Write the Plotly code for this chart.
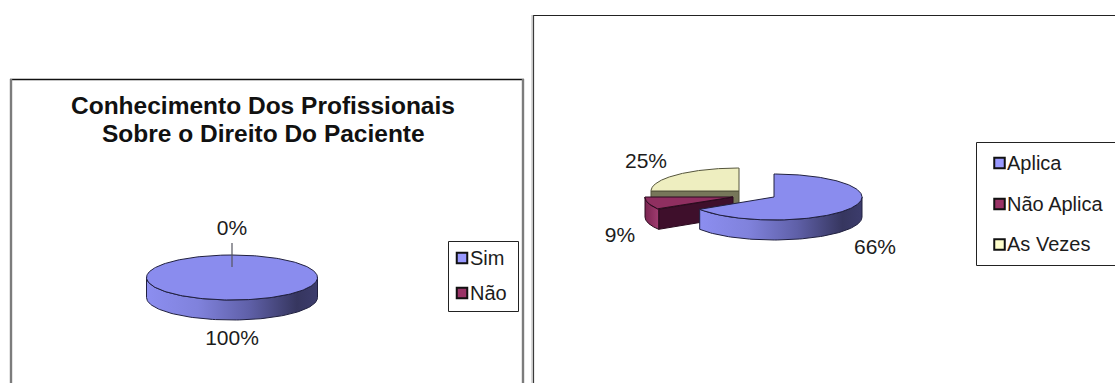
import numpy as np
import plotly.graph_objects as go

# Survey results, percent of respondents
categories_left = ["Sim", "Não"]
values_left = [100, 0]
categories_right = ["Aplica", "Não Aplica", "As Vezes"]
values_right = [66, 9, 25]
title_lines = ["Conhecimento Dos Profissionais", "Sobre o Direito Do Paciente"]

WIDTH, HEIGHT = 1115, 383
FONT = "Liberation Sans, Arial, sans-serif"
INK = "#1c1c1c"

# Colours per slice: top face, outer wall gradient, cut face, outline
STYLE = [
    dict(top="#8a8cee", wall=[[0, "#8c8ef0"], [0.3, "#8082dc"], [0.6, "#5f60a8"], [0.88, "#36365f"], [1, "#3c3c6c"]],
         cut="#40406e", edge="#20203f"),
    dict(top="#8f2f60", wall=[[0, "#7a2450"], [1, "#a03c70"]], cut="#3e0f2b", edge="#2a0a1e"),
    dict(top="#eeeec0", wall=[[0, "#bcbc94"], [1, "#eeeec0"]], cut="#77775a", edge="#55553c"),
]
LEGEND_COLORS = ["#9999ff", "#993366", "#ffffcc"]


def rim(cx, cy, rx, ry, a0, a1, n=90):
    """Points on the pie rim; angles in degrees, clockwise from twelve o'clock."""
    t = np.radians(np.linspace(a0, a1, n))
    return cx + rx * np.sin(t), cy - ry * np.cos(t)


def poly(fig, x, y, fill, edge, gradient=None):
    kw = dict(fillcolor=fill) if gradient is None else dict(
        fillgradient=dict(type="horizontal", colorscale=gradient))
    fig.add_trace(go.Scatter(
        x=list(x), y=list(y), mode="lines", fill="toself",
        line=dict(color=edge, width=1), hoverinfo="skip", showlegend=False, **kw))


def draw_slice(fig, cx, cy, rx, ry, depth, a0, a1, style):
    # Cut faces that turn towards the viewer
    for ang, visible in ((a0, 180 < a0 < 360), (a1, 0 < a1 < 180)):
        if visible:
            ex, ey = rim(cx, cy, rx, ry, ang, ang, 1)
            poly(fig, [cx, ex[0], ex[0], cx, cx],
                 [cy, ey[0], ey[0] + depth, cy + depth, cy], style["cut"], style["edge"])
    # Outer wall: only the front half of the rim shows
    w0, w1 = max(a0, 90), min(a1, 270)
    if w1 > w0:
        ux, uy = rim(cx, cy, rx, ry, w0, w1)
        poly(fig, np.r_[ux, ux[::-1], ux[0]], np.r_[uy, uy[::-1] + depth, uy[0]],
             style["wall"][0][1], style["edge"], gradient=style["wall"])
    # Top face
    tx, ty = rim(cx, cy, rx, ry, a0, a1, 240)
    if a1 - a0 >= 360:
        poly(fig, tx, ty, style["top"], style["edge"])
    else:
        poly(fig, np.r_[cx, tx, cx], np.r_[cy, ty, cy], style["top"], style["edge"])


def draw_pie(fig, values, cx, cy, rx, ry, depth, offsets, order):
    edges = np.r_[0, np.cumsum(values)] * 3.6
    for i in order:
        if values[i] > 0:
            dx, dy = offsets[i]
            draw_slice(fig, cx + dx, cy + dy, rx, ry, depth, edges[i], edges[i + 1], STYLE[i])


def text_trace(fig, x, y, labels, size=21, position="middle center"):
    fig.add_trace(go.Scatter(
        x=x, y=y, text=labels, mode="text", textposition=position,
        textfont=dict(family=FONT, size=size, color=INK),
        hoverinfo="skip", showlegend=False, cliponaxis=False))


def legend_box(fig, x0, x1, y0, y1, categories, mark_x, text_x, rows, size=20):
    shapes.append(dict(type="rect", x0=x0, x1=x1, y0=y0, y1=y1,
                       line=dict(color="#222222", width=1), fillcolor="white", layer="below"))
    fig.add_trace(go.Scatter(
        x=[mark_x] * len(categories), y=rows, mode="markers",
        marker=dict(symbol="square", size=10.5, color=LEGEND_COLORS[:len(categories)],
                    line=dict(color="#111111", width=2)),
        hoverinfo="skip", showlegend=False, cliponaxis=False))
    text_trace(fig, [text_x] * len(categories), [r + 1.5 for r in rows], categories,
               size=size, position="middle right")


def rule(x0, x1, y0, y1, color, width):
    shapes.append(dict(type="line", x0=x0, x1=x1, y0=y0, y1=y1,
                       line=dict(color=color, width=width), layer="below"))


fig = go.Figure()
shapes = []

# Chart frames: black top rule, side rules running off the page
rule(10, 524, 79.5, 79.5, "#111111", 1.3)
rule(11, 11, 79, HEIGHT, "#7c7c7c", 2.4)
rule(523, 523, 79, HEIGHT, "#7c7c7c", 2.4)
rule(533, WIDTH, 15.5, 15.5, "#222222", 1.1)
rule(532, 532, 15, HEIGHT, "#b4b4b4", 1)
rule(533.5, 533.5, 15, HEIGHT, "#3a3a3a", 1.2)

# Left pie
draw_pie(fig, values_left, 232, 277.5, 85.5, 22.5, 20, [(0, 0), (0, 0)], [1, 0])
shapes.append(dict(type="line", x0=232, x1=232, y0=243, y1=267,
                   line=dict(color="#555560", width=1.2), layer="above"))
text_trace(fig, [232, 232], [339.5, 229.5], [f"{v}%" for v in values_left])
legend_box(fig, 448.5, 518.5, 241.5, 311.5, categories_left, 462, 470, [258, 293])

# Right pie, slices pulled apart
draw_pie(fig, values_right, 774, 197, 88, 23, 20, [(0, 0), (-41, 0), (-35, -6)], [2, 1, 0])
text_trace(fig, [875, 620, 646], [248.5, 236.5, 162.5], [f"{v}%" for v in values_right])
legend_box(fig, 976.5, 1140, 142.5, 265.5, categories_right, 999.5, 1007, [163, 204, 244.5])

# Two-line chart title
for line, y in zip(title_lines, (105, 133)):
    fig.add_annotation(
        x=263, y=y, xref="x", yref="y", text=f"<b>{line}</b>", showarrow=False,
        font=dict(family=FONT, size=24.5, color="#111111"), align="center",
    )

fig.update_layout(
    width=WIDTH, height=HEIGHT, margin=dict(l=0, r=0, t=0, b=0),
    paper_bgcolor="white", plot_bgcolor="white", shapes=shapes,
    xaxis=dict(range=[0, WIDTH], visible=False, fixedrange=True),
    yaxis=dict(range=[HEIGHT, 0], visible=False, fixedrange=True),
)
fig.write_html("out.html", config=dict(displayModeBar=False))
